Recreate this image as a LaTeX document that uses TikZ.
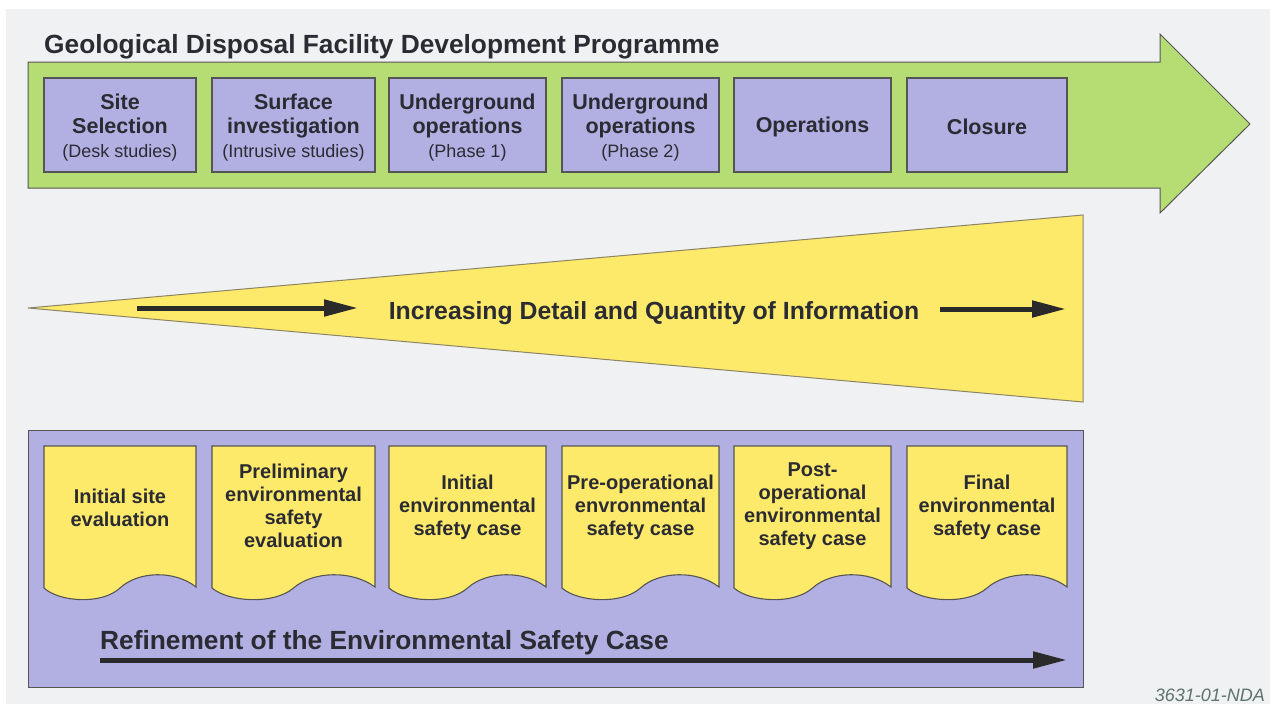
\documentclass[tikz,border=0pt]{standalone}
\usepackage{fontspec}
\setmainfont{Liberation Sans}
\usetikzlibrary{arrows.meta,calc}
\definecolor{bg}{HTML}{F0F1F3}
\definecolor{grn}{HTML}{B6DD74}
\definecolor{prp}{HTML}{B2B0E2}
\definecolor{ylw}{HTML}{FEEA6A}
\definecolor{txt}{HTML}{2B2B33}
\definecolor{edge}{HTML}{555555}
\definecolor{wedgeedge}{HTML}{8C8466}
\definecolor{foot}{HTML}{5E726E}
\definecolor{arr}{HTML}{2A2A2A}
\newcommand\subtxt{\fontsize{18}{23}\selectfont\mdseries}
\newcommand\docshape[2]{%
  \pgfmathsetmacro\dw{#2-#1}%
  \draw[docstyle] (#1,446) -- (#2,446) -- (#2,587)
    .. controls (#1+0.86*\dw,570) and (#1+0.62*\dw,571) .. (#1+0.5*\dw,588)
    .. controls (#1+0.38*\dw,605) and (#1+0.1*\dw,602) .. (#1,588) -- cycle;}
\begin{document}
\begin{tikzpicture}[x=1pt,y=-1pt,
  stagebox/.style={draw=edge, line width=1.3pt, fill=prp, minimum height=94pt, inner sep=0pt},
  stagetext/.style={align=center, inner sep=0pt, text=txt, font=\fontsize{21.5}{24}\selectfont\bfseries},
  docstyle/.style={draw=edge, line width=1.1pt, fill=ylw},
  doctext/.style={align=center, text=txt, inner sep=0pt, font=\fontsize{20}{23}\selectfont\bfseries},
  bigtext/.style={text=txt, inner sep=0pt, font=\fontsize{26.3}{30}\selectfont\bfseries},
  flow/.style={draw=arr, line width=5pt, -{Triangle[length=34pt,width=16pt]}}
]
\useasboundingbox (0,0) rectangle (1270,704);
\fill[white] (0,0) rectangle (1270,704);
\fill[bg] (6,9) rectangle (1270,704);

% green programme arrow
\draw[draw=edge, line width=1pt, fill=grn] (28,62) -- (1160,62) -- (1160,34) -- (1250,124)
  -- (1160,213) -- (1160,188) -- (28,188) -- cycle;
\node[bigtext, anchor=base west] (title) at (44,53) {Geological Disposal Facility Development Programme};

\node[stagebox, minimum width=152pt] (s1) at (120,125) {};
\node[stagebox, minimum width=163pt] (s2) at (293.5,125) {};
\node[stagebox, minimum width=157pt] (s3) at (467.5,125) {};
\node[stagebox, minimum width=157pt] (s4) at (640.5,125) {};
\node[stagebox, minimum width=157pt] (s5) at (812.5,125) {};
\node[stagebox, minimum width=160pt] (s6) at (987,125) {};
\node[stagetext] (t1) at (120,128) {Site\\Selection\\{\subtxt (Desk studies)}};
\node[stagetext] (t2) at (293.5,128) {Surface\\investigation\\{\subtxt (Intrusive studies)}};
\node[stagetext] (t3) at (467.5,128) {Underground\\operations\\{\subtxt (Phase 1)}};
\node[stagetext] (t4) at (640.5,128) {Underground\\operations\\{\subtxt (Phase 2)}};
\node[stagetext] (t5) at (812.5,127) {Operations};
\node[stagetext] (t6) at (987,127) {Closure};

% yellow wedge
\draw[draw=wedgeedge, line width=1pt, fill=ylw] (28,308) -- (1083,215) -- (1083,402) -- cycle;
\coordinate (w1s) at (137,308);
\coordinate (w1e) at (358,308);
\coordinate (w2s) at (940,309);
\coordinate (w2e) at (1066,309);
\draw[flow] (w1s) -- (w1e);
\draw[flow] (w2s) -- (w2e);
\node[bigtext, font=\fontsize{24.8}{30}\selectfont\bfseries, anchor=base] (info) at (654,319) {Increasing Detail and Quantity of Information};

% bottom panel
\draw[draw=edge, line width=1pt, fill=prp] (28,430) rectangle (1083,687);
\docshape{44}{196}
\docshape{212}{375}
\docshape{389}{546}
\docshape{562}{719}
\docshape{734}{891}
\docshape{907}{1067}
\node[doctext] (d1) at (120,508) {Initial site\\evaluation};
\node[doctext] (d2) at (293.5,506) {Preliminary\\environmental\\safety\\evaluation};
\node[doctext] (d3) at (467.5,507) {Initial\\environmental\\safety case};
\node[doctext] (d4) at (640.5,507) {Pre-operational\\envronmental\\safety case};
\node[doctext] (d5) at (812.5,506) {Post-\\operational\\environmental\\safety case};
\node[doctext] (d6) at (987,507) {Final\\environmental\\safety case};

\node[bigtext, anchor=base west] (refine) at (100,649) {Refinement of the Environmental Safety Case};
\coordinate (rs) at (100,660);
\coordinate (re) at (1067,660);
\draw[flow] (rs) -- (re);

\node[anchor=base east, inner sep=0pt, text=foot, font=\fontsize{18}{20}\selectfont\itshape] (foot) at (1265,701) {3631-01-NDA};
\end{tikzpicture}
\end{document}
